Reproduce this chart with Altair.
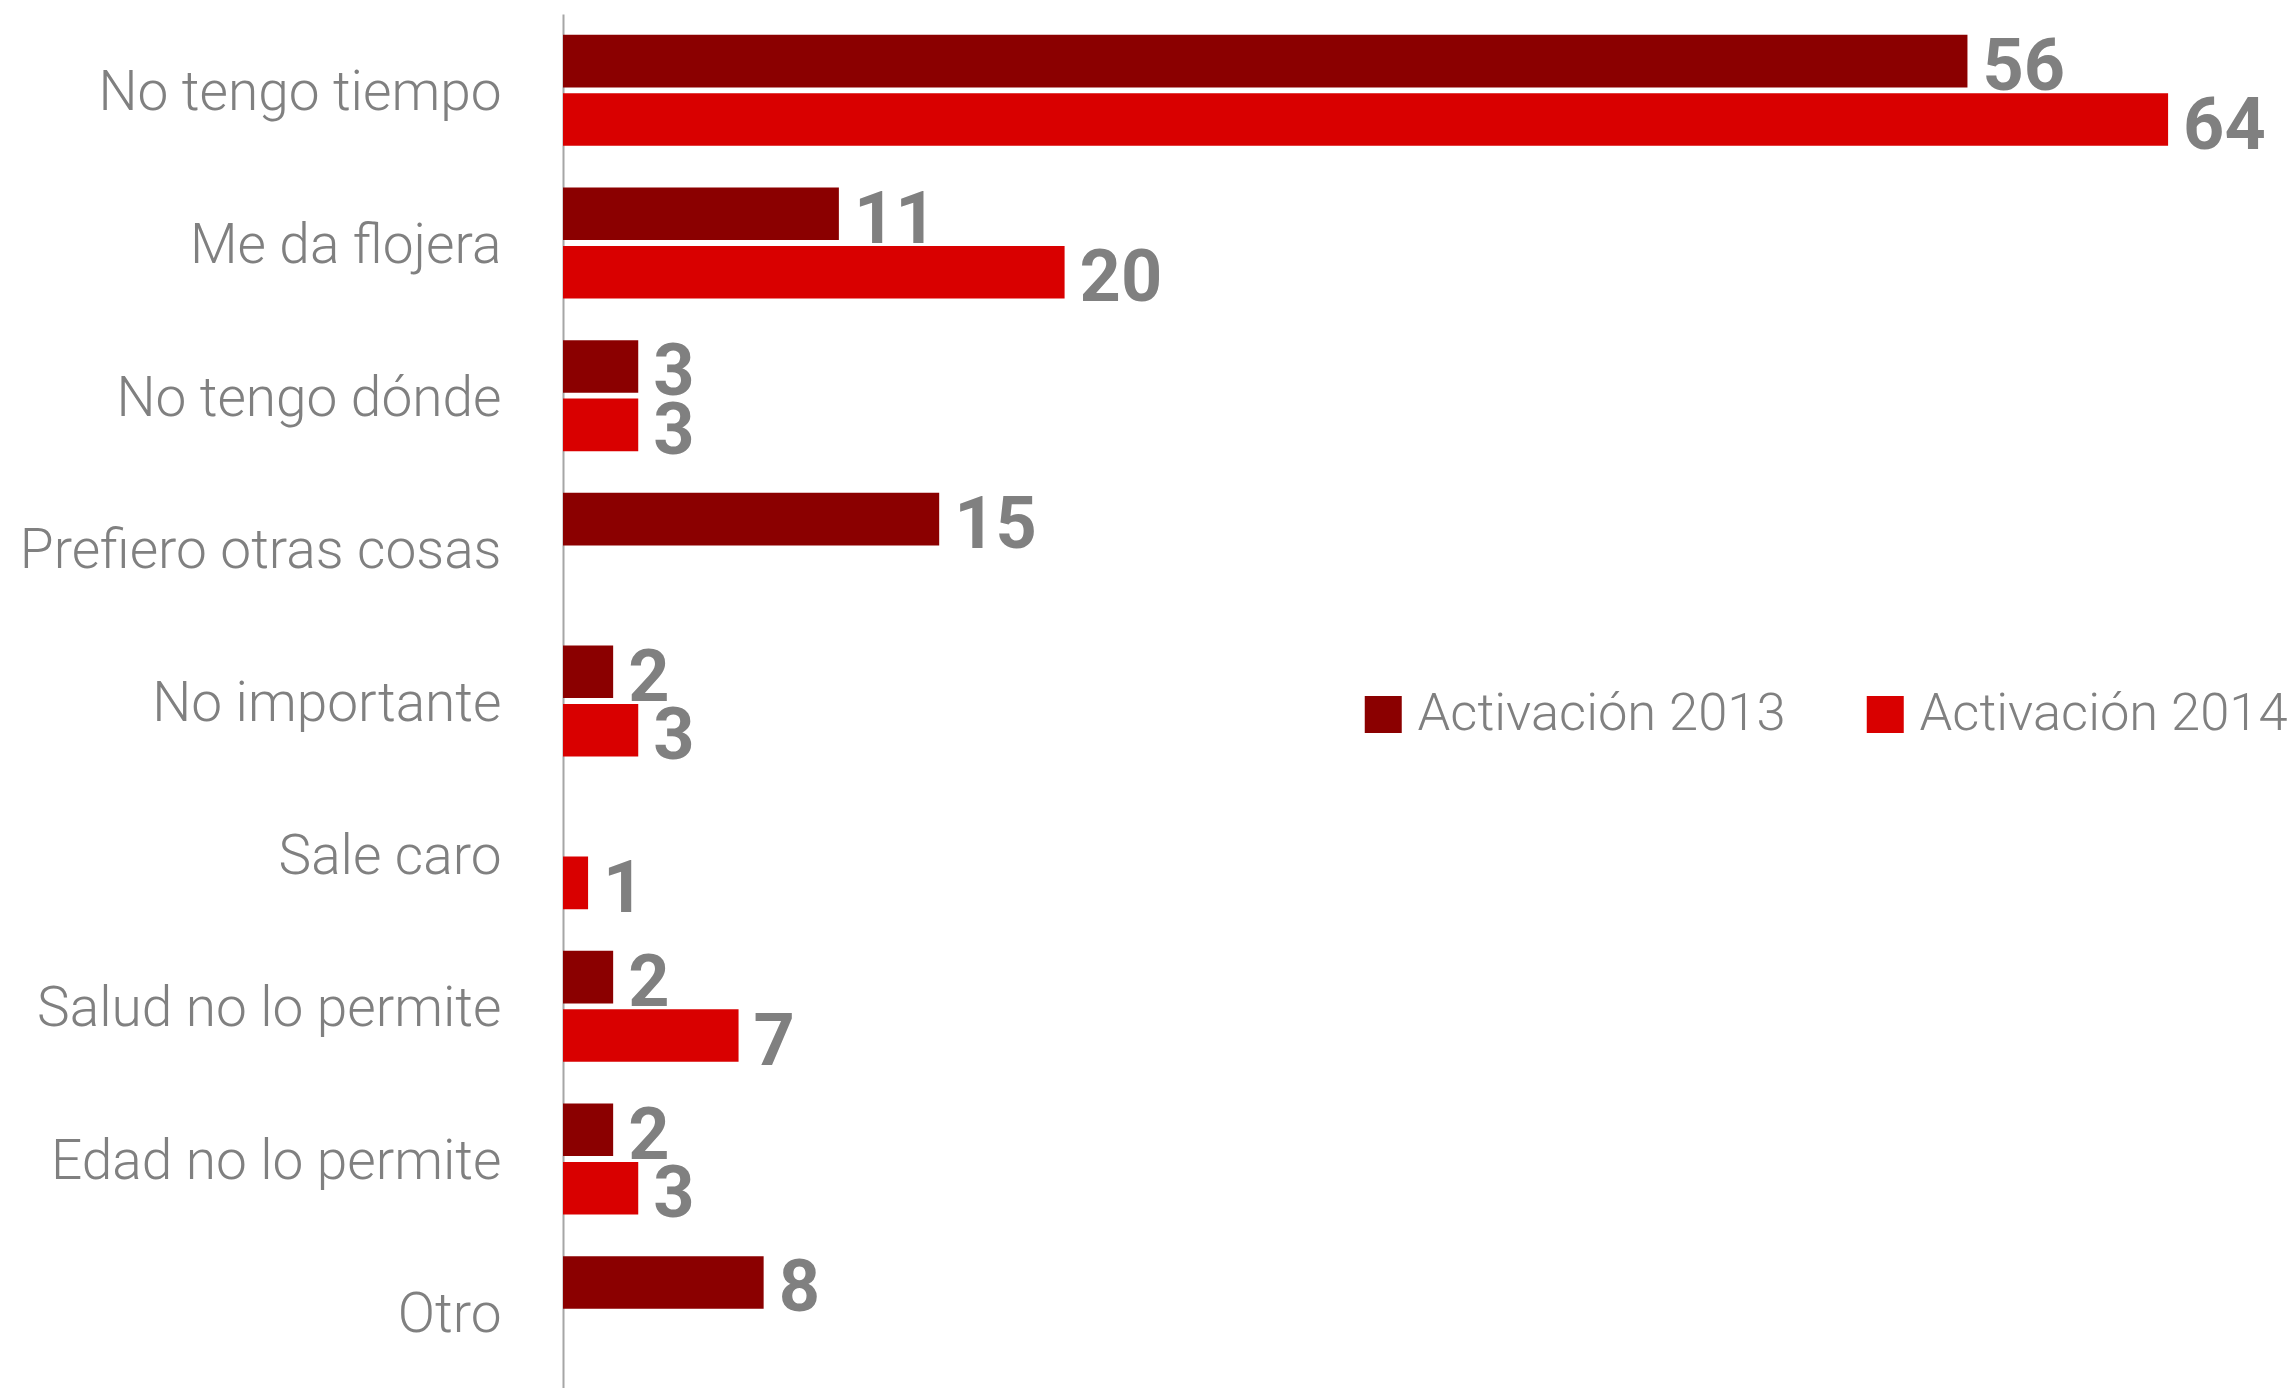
import altair as alt
import pandas as pd

categories = ["No tengo tiempo", "Me da flojera", "No tengo dónde", "Prefiero otras cosas",
              "No importante", "Sale caro", "Salud no lo permite", "Edad no lo permite", "Otro"]
series = ["Activación 2013", "Activación 2014"]
values_2013 = [56, 11, 3, 15, 2, None, 2, 2, 8]
values_2014 = [64, 20, 3, None, 3, 1, 7, 3, None]
colors = ["#8B0000", "#D90000"]

rows = []
for c, a, b in zip(categories, values_2013, values_2014):
    if a is not None:
        rows.append({"cat": c, "serie": series[0], "val": a})
    if b is not None:
        rows.append({"cat": c, "serie": series[1], "val": b})
df = pd.DataFrame(rows)

FONT = "Roboto, DejaVu Sans Condensed, sans-serif"
GRAY = "#808080"

y_enc = alt.Y("cat:N", sort=categories,
              scale=alt.Scale(paddingInner=0.273, paddingOuter=0.1365),
              axis=alt.Axis(title=None, ticks=False, grid=False, domain=True,
                            domainColor="#A6A6A6", domainWidth=2,
                            labelFont=FONT, labelFontSize=55, labelFontWeight=300,
                            labelColor=GRAY, labelPadding=62, labelLimit=600,
                            labelOffset=3))
yoff_enc = alt.YOffset("serie:N", sort=series, scale=alt.Scale(paddingInner=0.1, paddingOuter=0))
x_enc = alt.X("val:Q", scale=alt.Scale(domain=[0, 69.1], nice=False, zero=True), axis=None)

bars = alt.Chart(df).mark_bar().encode(
    x=x_enc, y=y_enc, yOffset=yoff_enc,
    color=alt.Color("serie:N", sort=series, title=None,
                    scale=alt.Scale(domain=series, range=colors),
                    legend=alt.Legend(orient="none", legendX=794, legendY=674,
                                      direction="horizontal", symbolType="square",
                                      symbolSize=1369, symbolStrokeWidth=0,
                                      labelFont=FONT, labelFontSize=52.5, labelFontWeight=300,
                                      labelColor=GRAY,
                                      labelOffset=8, columnPadding=73, padding=0,
                                      labelLimit=600))
)

labels = alt.Chart(df).mark_text(
    align="left", baseline="middle", dx=15, dy=7,
    font=FONT, fontSize=72, fontWeight="bold", color=GRAY
).encode(x=x_enc, y=y_enc, yOffset=yoff_enc, text=alt.Text("val:Q"))

chart = alt.layer(bars, labels).properties(
    width=1733, height=1374,
    background="white",
    autosize=alt.AutoSizeParams(type="none"),
    padding={"left": 563, "top": 14, "right": 0, "bottom": 0}
).configure_view(stroke=None)

chart.save("out.html", embed_options={"renderer": "svg", "actions": False})
